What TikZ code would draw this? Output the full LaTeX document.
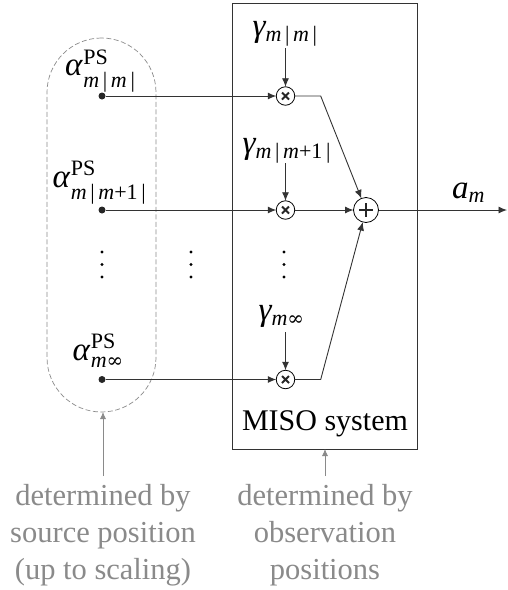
\documentclass[tikz,border=0pt]{standalone}
\usepackage{fontspec}
\setmainfont{Liberation Serif}
\usetikzlibrary{arrows.meta}
\definecolor{ann}{HTML}{8A8A8A}
\definecolor{ln}{HTML}{333333}
\newcommand{\sz}[1]{\fontsize{#1}{#1}\selectfont}
% #1 = subscript drop, #2 = subscript
\newcommand{\alp}[2]{{\sz{33}\itshape α}\hspace{1pt}\rlap{\raisebox{11.5pt}{\sz{22}PS}}\raisebox{-#1}{\sz{22}#2}}
\newcommand{\gam}[1]{{\sz{33}\itshape γ}\raisebox{-5pt}{\sz{22}#1}}
\newcommand{\mi}{{\itshape m}}
\newcommand{\inftysym}{{\fontspec{DejaVu Serif}\sz{20}∞}}
\tikzset{
  x=1pt,y=-1pt,
  every node/.style={font=\sz{30},inner sep=0pt,outer sep=0pt},
  lab/.style={anchor=base west},
  wire/.style={draw=ln,line width=0.9pt},
  arr/.style={wire,-{Latex[length=8.5pt,width=7pt]}},
  mult/.style={circle,draw=black,line width=0.8pt,minimum size=18.5pt,fill=white},
  sumnode/.style={circle,draw=black,line width=0.8pt,minimum size=25pt,fill=white},
  src/.style={circle,fill=black!85,minimum size=7pt},
  note/.style={text=ann,align=center,font=\sz{30.5},text height=20pt,text depth=6pt},
  noarr/.style={draw=ann,line width=0.8pt,-{Latex[length=7pt,width=6pt]}},
}
\begin{document}
\begin{tikzpicture}
\useasboundingbox (0,0) rectangle (507,590);
% containers
\node[draw=ln,line width=0.9pt,minimum width=185.5pt,minimum height=446pt,anchor=north west] (miso) at (232,3) {};
\node[draw=ann,dashed,dash pattern=on 5pt off 2.5pt,line width=0.7pt,rounded corners=54.5pt,minimum width=109pt,minimum height=374pt,anchor=north west] (pill) at (47,38) {};
% sources
\node[src] (s1) at (102,96) {};
\node[src] (s2) at (102,210) {};
\node[src] (s3) at (102,379.5) {};
% multipliers
\node[mult] (m1) at (285.5,96) {};
\node[mult] (m2) at (285.5,210) {};
\node[mult] (m3) at (285.5,379.5) {};
\foreach \n in {m1,m2,m3}{
  \draw[line width=1.8pt,black!85] (\n)+(-3.5,-3.5) -- +(3.5,3.5) (\n)+(-3.5,3.5) -- +(3.5,-3.5);
}
\node[sumnode] (sum) at (366,210) {};
\draw[line width=2pt,black!85] (sum)+(-7,0) -- +(7,0) (sum)+(0,-7) -- +(0,7);
\coordinate (c1) at (320.7,96);
\coordinate (c3) at (320.7,379.5);
\coordinate (out) at (507,210);
% labels
\node[lab] (a1) at (65,75.5) {\alp{12pt}{\mi\,|\,\mi\,|}};
\node[lab] (a2) at (52.5,187) {\alp{12pt}{\mi\,|\,\mi+1\,|}};
\node[lab] (a3) at (72.5,360) {\alp{7pt}{\mi\inftysym}};
\node[lab] (g1) at (252.5,36) {\gam{\mi\,|\,\mi\,|}};
\node[lab] (g2) at (242.5,153.5) {\gam{\mi\,|\,\mi+1\,|}};
\node[lab] (g3) at (258.5,320) {\gam{\mi\inftysym}};
\node[lab] (am) at (452,198) {{\sz{33}\itshape a}\raisebox{-4pt}{\sz{22}\itshape m}};
\coordinate (dg1) at (285.5,48);
\coordinate (dg2) at (285.5,163);
\coordinate (dg3) at (285.5,332);
% wires
\draw[arr] (s1) -- (m1);
\draw[arr] (s2) -- (m2);
\draw[arr] (s3) -- (m3);
\draw[arr] (dg1) -- (m1);
\draw[arr] (dg2) -- (m2);
\draw[arr] (dg3) -- (m3);
\draw[arr] (m1) -- (c1) -- (sum);
\draw[arr] (m2) -- (sum);
\draw[arr] (m3) -- (c3) -- (sum);
\draw[arr] (sum) -- (out);
% dots
\foreach \x in {102,191,284}{
  \foreach \y in {252,264.5,277}{
    \fill[black] (\x,\y) circle (1.7pt);
  }
}
\node (misolabel) at (325,424) {MISO system};
\node[note] (n1a) at (103,498) {determined by};
\node[note] (n1b) at (103,535.5) {source position};
\node[note] (n1c) at (103,572.5) {(up to scaling)};
\node[note] (n2a) at (325,498) {determined by};
\node[note] (n2b) at (325,535.5) {observation};
\node[note] (n2c) at (325,572.5) {positions};
\coordinate (t1) at (103,476);
\coordinate (t2) at (325,476);
\draw[noarr] (t1) -- (pill.south -| t1);
\draw[noarr] (t2) -- (miso.south -| t2);
\end{tikzpicture}
\end{document}
